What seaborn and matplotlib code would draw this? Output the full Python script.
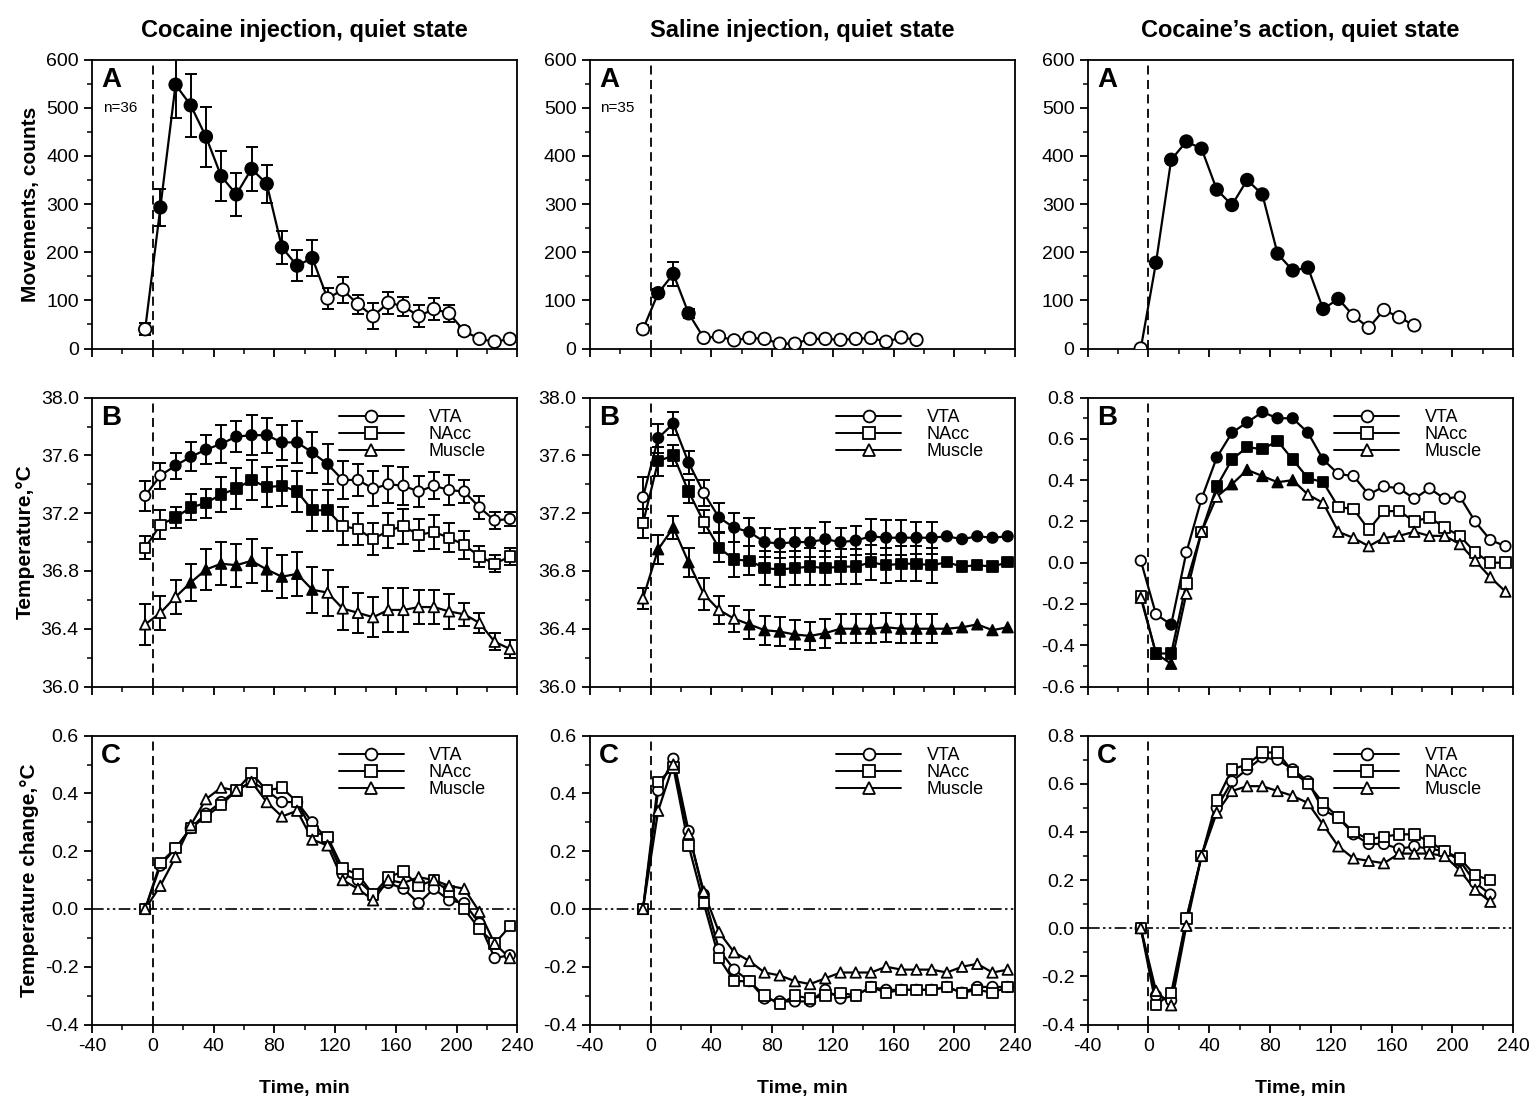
# Figure 3x3 : mouvements et temperatures apres injection (cocaine / saline)
import numpy as np
import matplotlib
matplotlib.use("Agg")
import matplotlib.pyplot as plt
from matplotlib.lines import Line2D
from matplotlib.ticker import MultipleLocator, FormatStrFormatter
import seaborn as sns

# ---------------- donnees ----------------
time_full = [-5, 5, 15, 25, 35, 45, 55, 65, 75, 85, 95, 105, 115, 125, 135, 145,
             155, 165, 175, 185, 195, 205, 215, 225, 235]
time_175 = [-5, 5, 15, 25, 35, 45, 55, 65, 75, 85, 95, 105, 115, 125, 135, 145,
            155, 165, 175]
time_225 = [-5, 5, 15, 25, 35, 45, 55, 65, 75, 85, 95, 105, 115, 125, 135, 145,
            155, 165, 175, 185, 195, 205, 215, 225]

# colonne 1 : cocaine
coc_move = [40, 293, 548, 505, 440, 358, 320, 373, 342, 210, 172, 188, 104, 122, 92,
            67, 95, 88, 67, 82, 73, 36, 20, 14, 20]
coc_move_err = [12, 38, 70, 65, 62, 52, 45, 45, 40, 35, 32, 37, 22, 27, 20, 27, 23,
                20, 23, 22, 18, 8, 5, 5, 5]
coc_move_fill = [0, 1, 1, 1, 1, 1, 1, 1, 1, 1, 1, 1, 0, 0, 0, 0, 0, 0, 0, 0, 0, 0, 0, 0, 0]

coc_vta = [37.32, 37.46, 37.53, 37.59, 37.64, 37.68, 37.73, 37.74, 37.74, 37.69, 37.69,
           37.62, 37.54, 37.43, 37.43, 37.37, 37.40, 37.39, 37.35, 37.39, 37.36, 37.35,
           37.24, 37.15, 37.16]
coc_vta_err = [0.105, 0.09, 0.09, 0.1, 0.1, 0.13, 0.105, 0.14, 0.12, 0.12, 0.145, 0.14,
               0.14, 0.13, 0.11, 0.12, 0.13, 0.13, 0.105, 0.095, 0.105, 0.08, 0.08,
               0.06, 0.05]
coc_vta_fill = [0, 0, 1, 1, 1, 1, 1, 1, 1, 1, 1, 1, 1, 0, 0, 0, 0, 0, 0, 0, 0, 0, 0, 0, 0]
coc_nacc = [36.96, 37.12, 37.17, 37.24, 37.27, 37.33, 37.37, 37.43, 37.38, 37.39, 37.35,
            37.22, 37.22, 37.11, 37.09, 37.02, 37.08, 37.11, 37.05, 37.07, 37.03, 36.98,
            36.90, 36.85, 36.90]
coc_nacc_err = [0.08, 0.1, 0.07, 0.09, 0.1, 0.12, 0.14, 0.14, 0.14, 0.14, 0.14, 0.14,
                0.14, 0.13, 0.11, 0.11, 0.12, 0.12, 0.11, 0.12, 0.1, 0.1, 0.07, 0.06, 0.06]
coc_nacc_fill = [0, 0, 1, 1, 1, 1, 1, 1, 1, 1, 1, 1, 1, 0, 0, 0, 0, 0, 0, 0, 0, 0, 0, 0, 0]
coc_musc = [36.43, 36.51, 36.62, 36.72, 36.81, 36.85, 36.84, 36.87, 36.81, 36.76, 36.78,
            36.67, 36.65, 36.54, 36.51, 36.48, 36.53, 36.53, 36.55, 36.55, 36.52, 36.50,
            36.44, 36.31, 36.26]
coc_musc_err = [0.14, 0.12, 0.12, 0.13, 0.14, 0.15, 0.15, 0.15, 0.15, 0.15, 0.15, 0.16,
                0.16, 0.15, 0.14, 0.14, 0.15, 0.15, 0.12, 0.12, 0.12, 0.08, 0.07, 0.06, 0.06]
coc_musc_fill = [0, 0, 0, 1, 1, 1, 1, 1, 1, 1, 1, 1, 0, 0, 0, 0, 0, 0, 0, 0, 0, 0, 0, 0, 0]

coc_d_vta = [0, 0.15, 0.21, 0.28, 0.33, 0.37, 0.41, 0.44, 0.41, 0.37, 0.37, 0.30, 0.24,
             0.12, 0.10, 0.05, 0.09, 0.07, 0.02, 0.07, 0.03, 0.02, -0.05, -0.17, -0.16]
coc_d_nacc = [0, 0.16, 0.21, 0.28, 0.32, 0.36, 0.41, 0.47, 0.41, 0.42, 0.37, 0.27, 0.25,
              0.14, 0.12, 0.05, 0.11, 0.13, 0.08, 0.10, 0.06, 0.0, -0.07, -0.12, -0.06]
coc_d_musc = [0, 0.08, 0.18, 0.29, 0.38, 0.42, 0.41, 0.44, 0.37, 0.32, 0.34, 0.24, 0.22,
              0.10, 0.07, 0.03, 0.10, 0.09, 0.11, 0.10, 0.08, 0.07, -0.01, -0.12, -0.17]

# colonne 2 : saline
sal_move = [40, 115, 155, 73, 22, 25, 17, 22, 20, 10, 10, 20, 20, 18, 20, 22, 14, 23, 18]
sal_move_err = [8, 8, 25, 10, 4, 3, 3, 3, 3, 3, 3, 3, 3, 3, 3, 3, 3, 3, 3]
sal_move_fill = [0, 1, 1, 1, 0, 0, 0, 0, 0, 0, 0, 0, 0, 0, 0, 0, 0, 0, 0]

sal_vta = [37.31, 37.72, 37.82, 37.55, 37.34, 37.17, 37.10, 37.07, 37.00, 36.99, 37.00,
           37.00, 37.02, 37.00, 37.01, 37.04, 37.03, 37.03, 37.03, 37.03, 37.04, 37.02,
           37.04, 37.03, 37.04]
sal_vta_err = [0.14, 0.1, 0.08, 0.08, 0.09, 0.1, 0.1, 0.1, 0.1, 0.1, 0.1, 0.1, 0.12, 0.1,
               0.1, 0.12, 0.12, 0.12, 0.11, 0.11, np.nan, np.nan, np.nan, np.nan, np.nan]
sal_vta_fill = [0, 1, 1, 1, 0, 1, 1, 1, 1, 1, 1, 1, 1, 1, 1, 1, 1, 1, 1, 1, 1, 1, 1, 1, 1]
sal_nacc = [37.13, 37.56, 37.60, 37.35, 37.14, 36.96, 36.88, 36.87, 36.82, 36.81, 36.82,
            36.83, 36.82, 36.83, 36.83, 36.86, 36.84, 36.85, 36.85, 36.84, 36.86, 36.83,
            36.84, 36.83, 36.86]
sal_nacc_err = [0.1, 0.1, 0.07, 0.08, 0.08, 0.1, 0.12, 0.1, 0.12, 0.12, 0.12, 0.13, 0.12,
                0.12, 0.12, 0.12, 0.12, 0.12, 0.12, 0.12, np.nan, np.nan, np.nan, np.nan,
                np.nan]
sal_nacc_fill = [0, 1, 1, 1, 0, 1, 1, 1, 1, 1, 1, 1, 1, 1, 1, 1, 1, 1, 1, 1, 1, 1, 1, 1, 1]
sal_musc = [36.61, 36.95, 37.10, 36.86, 36.64, 36.53, 36.47, 36.43, 36.39, 36.38, 36.36,
            36.35, 36.37, 36.40, 36.40, 36.40, 36.41, 36.40, 36.40, 36.40, 36.40, 36.41,
            36.43, 36.39, 36.41]
sal_musc_err = [0.07, 0.1, 0.08, 0.1, 0.11, 0.1, 0.09, 0.1, 0.1, 0.1, 0.1, 0.1, 0.1, 0.1,
                0.1, 0.1, 0.1, 0.1, 0.1, 0.1, np.nan, np.nan, np.nan, np.nan, np.nan]
sal_musc_fill = [0, 1, 1, 1, 0, 0, 0, 1, 1, 1, 1, 1, 1, 1, 1, 1, 1, 1, 1, 1, 1, 1, 1, 1, 1]

sal_d_vta = [0, 0.41, 0.52, 0.27, 0.05, -0.14, -0.21, -0.25, -0.31, -0.32, -0.32, -0.32,
             -0.28, -0.31, -0.30, -0.27, -0.28, -0.28, -0.28, -0.28, -0.27, -0.29, -0.27,
             -0.27, -0.27]
sal_d_nacc = [0, 0.44, 0.49, 0.22, 0.02, -0.17, -0.25, -0.25, -0.30, -0.33, -0.30, -0.31,
              -0.30, -0.29, -0.30, -0.27, -0.29, -0.28, -0.28, -0.28, -0.27, -0.29, -0.28,
              -0.29, -0.27]
sal_d_musc = [0, 0.34, 0.50, 0.26, 0.06, -0.08, -0.15, -0.18, -0.22, -0.23, -0.25, -0.26,
              -0.24, -0.22, -0.22, -0.22, -0.20, -0.21, -0.21, -0.21, -0.22, -0.20, -0.19,
              -0.22, -0.21]

# colonne 3 : action de la cocaine (cocaine - saline)
act_move = [0, 178, 392, 430, 415, 330, 298, 350, 320, 197, 162, 168, 82, 103, 68, 43,
            80, 65, 48]
act_move_fill = [0, 1, 1, 1, 1, 1, 1, 1, 1, 1, 1, 1, 1, 1, 0, 0, 0, 0, 0]

act_vta = [0.01, -0.25, -0.30, 0.05, 0.31, 0.51, 0.63, 0.68, 0.73, 0.70, 0.70, 0.63, 0.50,
           0.43, 0.42, 0.33, 0.37, 0.36, 0.31, 0.36, 0.31, 0.32, 0.20, 0.11, 0.08]
act_vta_fill = [0, 0, 1, 0, 0, 1, 1, 1, 1, 1, 1, 1, 1, 0, 0, 0, 0, 0, 0, 0, 0, 0, 0, 0, 0]
act_nacc = [-0.16, -0.44, -0.44, -0.10, 0.15, 0.37, 0.50, 0.56, 0.55, 0.59, 0.50, 0.41,
            0.39, 0.27, 0.26, 0.16, 0.25, 0.25, 0.20, 0.22, 0.17, 0.13, 0.05, 0.00, 0.00]
act_nacc_fill = [0, 1, 1, 0, 0, 1, 1, 1, 1, 1, 1, 1, 1, 0, 0, 0, 0, 0, 0, 0, 0, 0, 0, 0, 0]
act_musc = [-0.17, -0.44, -0.49, -0.15, 0.15, 0.32, 0.38, 0.45, 0.42, 0.39, 0.40, 0.33,
            0.29, 0.15, 0.12, 0.08, 0.12, 0.13, 0.15, 0.13, 0.13, 0.09, 0.01, -0.07, -0.14]
act_musc_fill = [0, 1, 1, 0, 0, 0, 1, 1, 1, 1, 1, 0, 0, 0, 0, 0, 0, 0, 0, 0, 0, 0, 0, 0, 0]

act_d_vta = [0, -0.28, -0.30, 0.04, 0.30, 0.50, 0.61, 0.66, 0.71, 0.70, 0.66, 0.61, 0.49,
             0.46, 0.39, 0.35, 0.35, 0.33, 0.34, 0.33, 0.32, 0.28, 0.19, 0.14]
act_d_nacc = [0, -0.32, -0.27, 0.04, 0.30, 0.53, 0.66, 0.68, 0.73, 0.73, 0.65, 0.60, 0.52,
              0.46, 0.40, 0.37, 0.38, 0.39, 0.39, 0.36, 0.32, 0.29, 0.22, 0.20]
act_d_musc = [0, -0.26, -0.32, 0.01, 0.30, 0.48, 0.57, 0.59, 0.59, 0.57, 0.55, 0.52, 0.43,
              0.34, 0.29, 0.28, 0.27, 0.31, 0.31, 0.31, 0.30, 0.24, 0.16, 0.11]

col_titles = ["Cocaine injection, quiet state", "Saline injection, quiet state",
              "Cocaine\u2019s action, quiet state"]
region_names = ["VTA", "NAcc", "Muscle"]
region_markers = ["o", "s", "^"]

# ---------------- style ----------------
sns.set_style("ticks")
plt.rcParams["font.family"] = ["Liberation Sans", "DejaVu Sans"]
plt.rcParams["axes.linewidth"] = 1.3
plt.rcParams["axes.unicode_minus"] = False
for key in ["text.color", "axes.labelcolor", "xtick.color", "ytick.color",
            "axes.edgecolor"]:
    plt.rcParams[key] = "black"

fig, axes = plt.subplots(3, 3, figsize=(15.33, 11.04), dpi=100)
fig.subplots_adjust(left=0.060, right=0.987, top=0.946, bottom=0.072,
                    wspace=0.17, hspace=0.17)


def draw_series(ax, t, y, marker, fill=None, err=None, ms=7.5):
    # ligne + barres d'erreur + marqueurs pleins / vides
    sns.lineplot(x=t, y=y, ax=ax, color="black", lw=1.6, zorder=3, legend=False,
                 estimator=None, sort=False)
    if err is not None:
        e = np.array(err, dtype=float)
        ok = ~np.isnan(e)
        ax.errorbar(np.array(t)[ok], np.array(y)[ok], yerr=e[ok], fmt="none",
                    ecolor="black", elinewidth=1.4, capsize=4, capthick=1.4, zorder=2)
    if fill is None:
        fill = [0] * len(t)
    face = ["black" if f else "white" for f in fill]
    ax.scatter(t, y, marker=marker, s=ms ** 2, facecolors=face, edgecolors="black",
               linewidths=1.3, zorder=4)


def region_legend(ax):
    handles = [Line2D([], [], color="black", lw=1.4, marker=m, ms=8.5, mfc="white",
                      mec="black", mew=1.3) for m in region_markers]
    ax.legend(handles, region_names, loc="upper right", bbox_to_anchor=(0.96, 1.01),
              frameon=False, fontsize=13, handlelength=3.6, handletextpad=1.4,
              labelspacing=0.0, borderaxespad=0.4)


def style_axis(ax, ylim, major, minor, letter, show_x):
    ax.set_xlim(-40, 240)
    ax.set_ylim(*ylim)
    ax.xaxis.set_major_locator(MultipleLocator(40))
    ax.xaxis.set_minor_locator(MultipleLocator(20))
    ax.yaxis.set_major_locator(MultipleLocator(major))
    ax.yaxis.set_minor_locator(MultipleLocator(minor))
    ax.tick_params(which="major", direction="out", length=6, width=1.3, labelsize=14,
                   top=False, right=False)
    ax.tick_params(which="minor", direction="out", length=3.5, width=1.1,
                   top=False, right=False)
    if not show_x:
        ax.tick_params(axis="x", labelbottom=False)
    ax.axvline(0, color="black", lw=1.3, ls=(0, (5, 3)), zorder=1)
    ax.text(0.022, 0.975, letter, transform=ax.transAxes, fontsize=20,
            fontweight="bold", va="top", ha="left")
    for s in ax.spines.values():
        s.set_visible(True)
        s.set_color("black")


# ---------------- rangee A : mouvements ----------------
ax = axes[0, 0]
draw_series(ax, time_full, coc_move, "o", coc_move_fill, coc_move_err, ms=9)
style_axis(ax, (0, 600), 100, 50, "A", False)
ax.text(0.025, 0.82, "n=36", transform=ax.transAxes, fontsize=11)

ax = axes[0, 1]
draw_series(ax, time_175, sal_move, "o", sal_move_fill, sal_move_err, ms=9)
style_axis(ax, (0, 600), 100, 50, "A", False)
ax.text(0.025, 0.82, "n=35", transform=ax.transAxes, fontsize=11)

ax = axes[0, 2]
draw_series(ax, time_175, act_move, "o", act_move_fill, None, ms=9)
style_axis(ax, (0, 600), 100, 50, "A", False)

# ---------------- rangee B : temperatures ----------------
ax = axes[1, 0]
draw_series(ax, time_full, coc_vta, "o", coc_vta_fill, coc_vta_err)
draw_series(ax, time_full, coc_nacc, "s", coc_nacc_fill, coc_nacc_err)
draw_series(ax, time_full, coc_musc, "^", coc_musc_fill, coc_musc_err)
style_axis(ax, (36.0, 38.0), 0.4, 0.2, "B", False)
ax.yaxis.set_major_formatter(FormatStrFormatter("%.1f"))
region_legend(ax)

ax = axes[1, 1]
draw_series(ax, time_full, sal_vta, "o", sal_vta_fill, sal_vta_err)
draw_series(ax, time_full, sal_nacc, "s", sal_nacc_fill, sal_nacc_err)
draw_series(ax, time_full, sal_musc, "^", sal_musc_fill, sal_musc_err)
style_axis(ax, (36.0, 38.0), 0.4, 0.2, "B", False)
ax.yaxis.set_major_formatter(FormatStrFormatter("%.1f"))
region_legend(ax)

ax = axes[1, 2]
draw_series(ax, time_full, act_vta, "o", act_vta_fill)
draw_series(ax, time_full, act_nacc, "s", act_nacc_fill)
draw_series(ax, time_full, act_musc, "^", act_musc_fill)
style_axis(ax, (-0.6, 0.8), 0.2, 0.1, "B", False)
ax.yaxis.set_major_formatter(FormatStrFormatter("%.1f"))
region_legend(ax)

# ---------------- rangee C : variations de temperature ----------------
rows_c = [(time_full, coc_d_vta, coc_d_nacc, coc_d_musc, (-0.4, 0.6)),
          (time_full, sal_d_vta, sal_d_nacc, sal_d_musc, (-0.4, 0.6)),
          (time_225, act_d_vta, act_d_nacc, act_d_musc, (-0.4, 0.8))]
for j, (t, v, n, m, lim) in enumerate(rows_c):
    ax = axes[2, j]
    ax.axhline(0, color="black", lw=1.2, ls=(0, (7, 2, 1.5, 2, 1.5, 2)), zorder=1)
    draw_series(ax, t, v, "o")
    draw_series(ax, t, n, "s")
    draw_series(ax, t, m, "^")
    style_axis(ax, lim, 0.2, 0.1, "C", True)
    ax.yaxis.set_major_formatter(FormatStrFormatter("%.1f"))
    ax.set_xlabel("Time, min", fontsize=14, fontweight="bold", labelpad=18)
    region_legend(ax)

# titres et labels
for j in range(3):
    axes[0, j].set_title(col_titles[j], fontsize=17, fontweight="bold", pad=16)
axes[0, 0].set_ylabel("Movements, counts", fontsize=15, fontweight="bold")
axes[1, 0].set_ylabel("Temperature,\u00b0C", fontsize=15, fontweight="bold")
axes[2, 0].set_ylabel("Temperature change,\u00b0C", fontsize=15, fontweight="bold")

plt.savefig("out.png", dpi=100)
